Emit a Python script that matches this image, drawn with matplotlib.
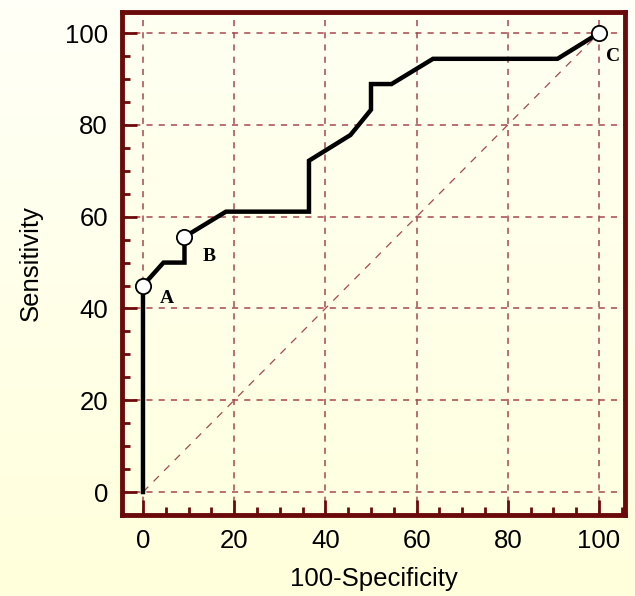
import numpy as np
import matplotlib.pyplot as plt
from matplotlib.ticker import MultipleLocator

# ROC curve points (100-Specificity, Sensitivity)
fpr = [0, 0, 4.5, 9.1, 9.1, 18.2, 36.4, 36.4, 45.5, 50, 50, 54.5, 63.6, 90.9, 100]
tpr = [0, 45, 50, 50, 55.6, 61.1, 61.1, 72.2, 77.8, 83.3, 88.9, 88.9, 94.4, 94.4, 100]

# labelled points
pt_names = ['A', 'B', 'C']
pt_x = [0, 9.1, 100]
pt_y = [45, 55.6, 100]

dark_red = '#6B0A0A'
grid_col = '#A8474F'

plt.rcParams['font.family'] = ['Liberation Sans', 'DejaVu Sans']

fig = plt.figure(figsize=(6.35, 5.96), dpi=100)

# background gradient: near white at top to pale yellow at bottom
bg = fig.add_axes([0, 0, 1, 1], zorder=-10)
grad = np.linspace(0, 1, 256).reshape(-1, 1)
top = np.array([1.0, 1.0, 0.97])
bot = np.array([1.0, 1.0, 0.86])
img = top + (bot - top) * grad[..., None]
bg.imshow(img, aspect='auto', extent=[0, 1, 0, 1], origin='upper')
bg.axis('off')

ax = fig.add_axes([122 / 635, 1 - 515 / 596, 503 / 635, 503 / 596])
ax.set_facecolor((1, 1, 0.90, 0.3))

ax.set_xlim(-4.6, 105.7)
ax.set_ylim(-5.0, 104.6)

# grid
for v in range(0, 101, 20):
    ax.axvline(v, color=grid_col, lw=1.1, ls=(0, (4, 4)), zorder=1)
    ax.axhline(v, color=grid_col, lw=1.1, ls=(0, (4, 4)), zorder=1)

# diagonal reference line
ax.plot([0, 100], [0, 100], color=grid_col, lw=0.9, ls=(0, (6, 6)), zorder=1)

# ROC curve
ax.plot(fpr, tpr, color='black', lw=3.2, zorder=3, solid_joinstyle='miter')
ax.plot(pt_x, pt_y, 'o', ms=11, mfc='white', mec='black', mew=1.3, zorder=4)

offsets = [(3.6, -2.8), (3.9, -4.3), (1.6, -5.0)]
for name, x, y, (dx, dy) in zip(pt_names, pt_x, pt_y, offsets):
    ax.text(x + dx, y + dy, name, fontsize=14, fontweight='bold',
            family='Liberation Serif', va='center', ha='left', zorder=5)

ax.xaxis.set_major_locator(MultipleLocator(20))
ax.yaxis.set_major_locator(MultipleLocator(20))
ax.xaxis.set_minor_locator(MultipleLocator(5))
ax.yaxis.set_minor_locator(MultipleLocator(5))
ax.tick_params(which='major', direction='in', length=11, width=2, color=dark_red,
               labelsize=18.5, pad=10, top=False, right=False)
ax.tick_params(which='minor', direction='in', length=6, width=2, color=dark_red,
               top=False, right=False)

for s in ax.spines.values():
    s.set_color(dark_red)
    s.set_linewidth(3.5)

ax.set_xlabel('100-Specificity', fontsize=18.5, labelpad=10)
ax.set_ylabel('Sensitivity', fontsize=18.5, labelpad=16)

fig.savefig('out.png', dpi=100)
